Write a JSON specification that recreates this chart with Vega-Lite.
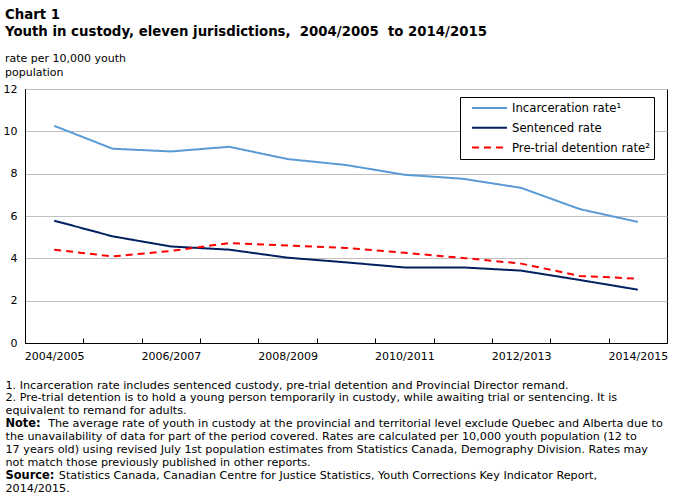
{
  "$schema": "https://vega.github.io/schema/vega-lite/v6.json",
  "width": 642,
  "height": 254,
  "autosize": {"type": "none"},
  "padding": {"left": 25, "top": 89, "right": 6, "bottom": 154},
  "background": "white",
  "title": {
    "text": ["Chart 1", "Youth in custody, eleven jurisdictions,\u00a0\u00a02004/2005\u00a0\u00a0to 2014/2015"],
    "subtitle": ["rate per 10,000 youth", "population"],
    "anchor": "start",
    "frame": "group",
    "dx": -20,
    "offset": 5,
    "font": "DejaVu Sans",
    "fontSize": 13.3,
    "fontWeight": "bold",
    "lineHeight": 17,
    "color": "black",
    "subtitleFont": "DejaVu Sans",
    "subtitleFontSize": 11,
    "subtitleLineHeight": 14,
    "subtitleColor": "black",
    "subtitlePadding": 15
  },
  "config": {
    "font": "DejaVu Sans",
    "view": {"stroke": "black", "strokeWidth": 1},
    "axis": {"labelFont": "DejaVu Sans", "labelFontSize": 11, "labelColor": "black"}
  },
  "data": {
    "values": [
      {"year": "2004/2005", "series": "Incarceration rate¹", "rate": 10.26},
      {"year": "2005/2006", "series": "Incarceration rate¹", "rate": 9.18},
      {"year": "2006/2007", "series": "Incarceration rate¹", "rate": 9.05},
      {"year": "2007/2008", "series": "Incarceration rate¹", "rate": 9.27},
      {"year": "2008/2009", "series": "Incarceration rate¹", "rate": 8.69},
      {"year": "2009/2010", "series": "Incarceration rate¹", "rate": 8.41},
      {"year": "2010/2011", "series": "Incarceration rate¹", "rate": 7.95},
      {"year": "2011/2012", "series": "Incarceration rate¹", "rate": 7.76},
      {"year": "2012/2013", "series": "Incarceration rate¹", "rate": 7.33},
      {"year": "2013/2014", "series": "Incarceration rate¹", "rate": 6.33},
      {"year": "2014/2015", "series": "Incarceration rate¹", "rate": 5.72},
      {"year": "2004/2005", "series": "Sentenced rate", "rate": 5.78},
      {"year": "2005/2006", "series": "Sentenced rate", "rate": 5.04},
      {"year": "2006/2007", "series": "Sentenced rate", "rate": 4.56},
      {"year": "2007/2008", "series": "Sentenced rate", "rate": 4.41},
      {"year": "2008/2009", "series": "Sentenced rate", "rate": 4.03},
      {"year": "2009/2010", "series": "Sentenced rate", "rate": 3.81},
      {"year": "2010/2011", "series": "Sentenced rate", "rate": 3.57},
      {"year": "2011/2012", "series": "Sentenced rate", "rate": 3.57},
      {"year": "2012/2013", "series": "Sentenced rate", "rate": 3.42},
      {"year": "2013/2014", "series": "Sentenced rate", "rate": 2.98},
      {"year": "2014/2015", "series": "Sentenced rate", "rate": 2.52},
      {"year": "2004/2005", "series": "Pre-trial detention rate²", "rate": 4.41},
      {"year": "2005/2006", "series": "Pre-trial detention rate²", "rate": 4.09},
      {"year": "2006/2007", "series": "Pre-trial detention rate²", "rate": 4.35},
      {"year": "2007/2008", "series": "Pre-trial detention rate²", "rate": 4.72},
      {"year": "2008/2009", "series": "Pre-trial detention rate²", "rate": 4.61},
      {"year": "2009/2010", "series": "Pre-trial detention rate²", "rate": 4.49},
      {"year": "2010/2011", "series": "Pre-trial detention rate²", "rate": 4.26},
      {"year": "2011/2012", "series": "Pre-trial detention rate²", "rate": 4.02},
      {"year": "2012/2013", "series": "Pre-trial detention rate²", "rate": 3.75},
      {"year": "2013/2014", "series": "Pre-trial detention rate²", "rate": 3.17},
      {"year": "2014/2015", "series": "Pre-trial detention rate²", "rate": 3.04}
    ]
  },
  "mark": {"type": "line", "strokeWidth": 2},
  "encoding": {
    "x": {
      "field": "year",
      "type": "nominal",
      "sort": null,
      "scale": {"type": "band", "paddingInner": 0, "paddingOuter": 0},
      "axis": {
        "labelAngle": 0,
        "tickBand": "extent",
        "tickSize": -5,
        "tickColor": "black",
        "domainColor": "black",
        "labelPadding": 12,
        "labelExpr": "indexof(['2004/2005','2006/2007','2008/2009','2010/2011','2012/2013','2014/2015'], datum.value) >= 0 ? datum.label : ''",
        "title": [
          "1. Incarceration rate includes sentenced custody, pre-trial detention and Provincial Director remand.",
          "2. Pre-trial detention is to hold a young person temporarily in custody, while awaiting trial or sentencing. It is",
          "equivalent to remand for adults.",
          "\u200b\u00a0\u00a0\u00a0\u00a0\u00a0\u00a0\u00a0\u00a0\u00a0\u00a0\u00a0\u00a0The average rate of youth in custody at the provincial and territorial level exclude Quebec and Alberta due to",
          "the unavailability of data for part of the period covered. Rates are calculated per 10,000 youth population (12 to",
          "17 years old) using revised July 1st population estimates from Statistics Canada, Demography Division. Rates may",
          "not match those previously published in other reports.",
          "\u200b\u00a0\u00a0\u00a0\u00a0\u00a0\u00a0\u00a0\u00a0\u00a0\u00a0\u00a0\u00a0\u00a0\u00a0\u00a0Statistics Canada, Canadian Centre for Justice Statistics, Youth Corrections Key Indicator Report,",
          "2014/2015."
        ],
        "titleFont": "DejaVu Sans",
        "titleFontSize": 11.2,
        "titleFontWeight": "normal",
        "titleColor": "black",
        "titleLineHeight": 12.9,
        "titleAngle": 0,
        "titleAlign": "left",
        "titleBaseline": "top",
        "titleX": -20,
        "titleY": 36
      }
    },
    "y": {
      "field": "rate",
      "type": "quantitative",
      "scale": {"domain": [0, 12]},
      "axis": {
        "values": [0, 2, 4, 6, 8, 10, 12],
        "ticks": false,
        "labelPadding": 8,
        "gridColor": "#bfbfbf",
        "domainColor": "black",
        "title": ["Note:", "Source:"],
        "titleFont": "DejaVu Sans",
        "titleFontSize": 11.4,
        "titleFontWeight": "bold",
        "titleColor": "black",
        "titleLineHeight": 51.6,
        "titleAngle": 0,
        "titleAlign": "left",
        "titleBaseline": "top",
        "titleX": -20,
        "titleY": 328.7
      }
    },
    "color": {
      "field": "series",
      "type": "nominal",
      "scale": {
        "domain": ["Incarceration rate¹", "Sentenced rate", "Pre-trial detention rate²"],
        "range": ["#5b9bd5", "#002060", "#ff0000"]
      },
      "legend": {
        "title": null,
        "orient": "none",
        "legendX": 435,
        "legendY": 8,
        "strokeColor": "black",
        "fillColor": "white",
        "padding": 4,
        "symbolOffset": 7,
        "symbolType": "M-1,0H4.83",
        "symbolSize": 144,
        "symbolStrokeWidth": 2,
        "labelOffset": 27,
        "labelFont": "DejaVu Sans",
        "labelFontSize": 11.7,
        "labelColor": "black",
        "rowPadding": 5.8
      }
    },
    "strokeDash": {
      "field": "series",
      "type": "nominal",
      "scale": {
        "domain": ["Incarceration rate¹", "Sentenced rate", "Pre-trial detention rate²"],
        "range": [[1, 0], [1, 0], [7, 5]]
      },
      "legend": null
    }
  }
}
